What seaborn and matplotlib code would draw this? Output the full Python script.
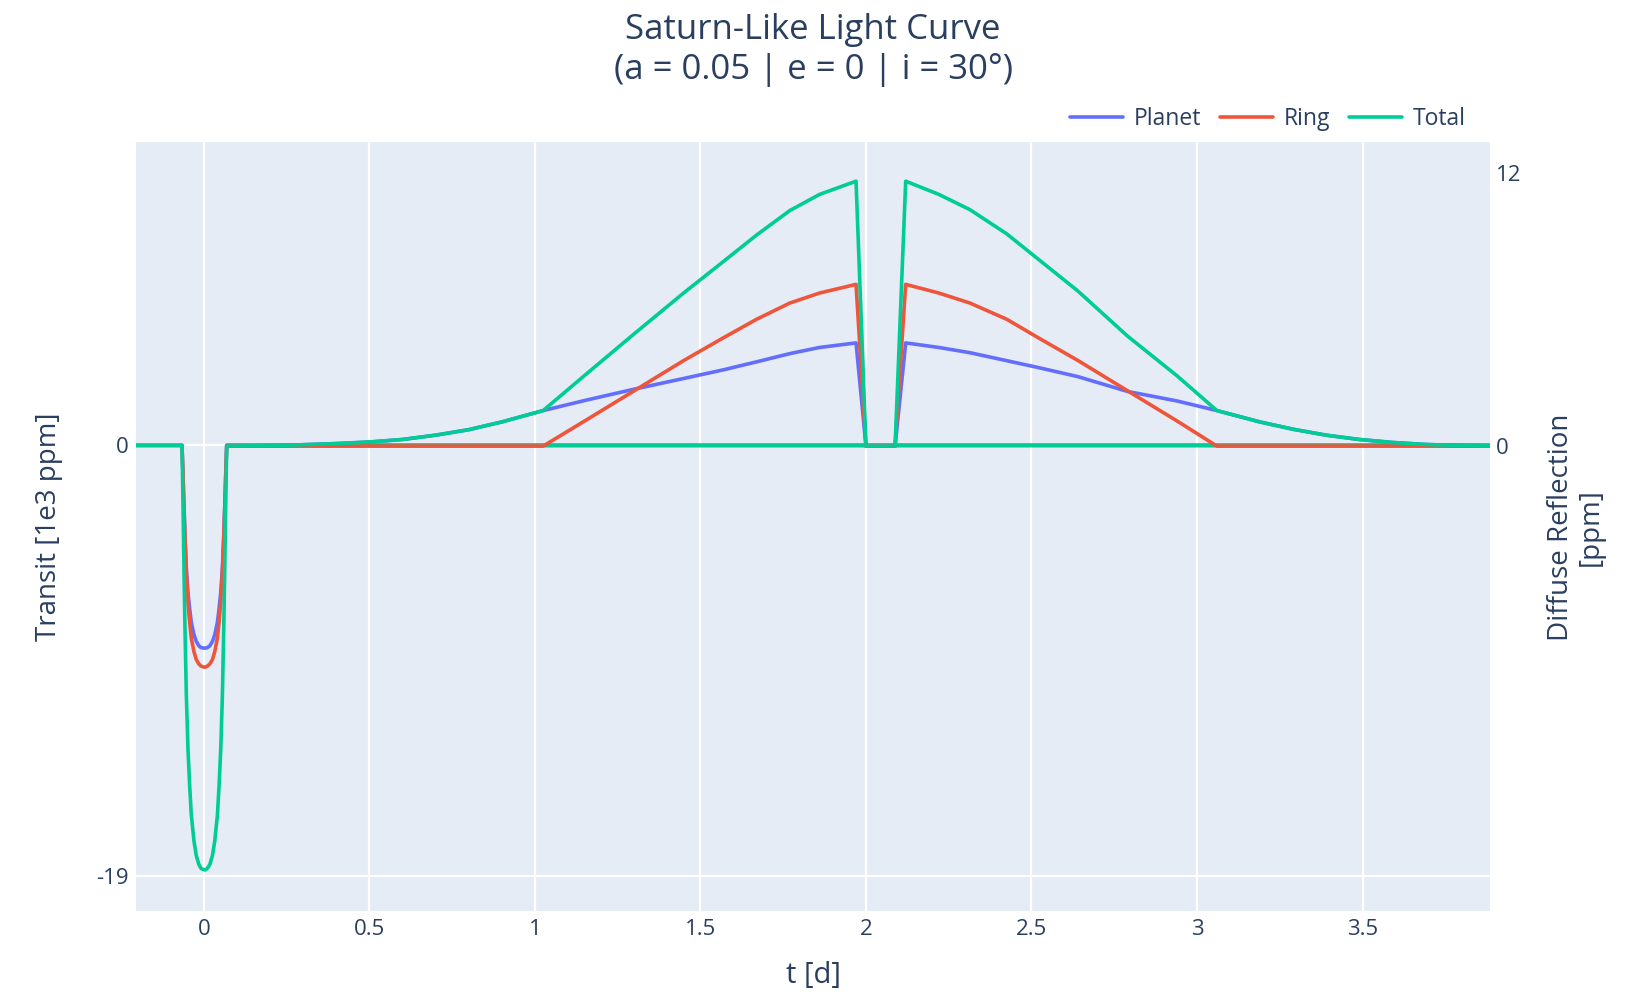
import matplotlib
matplotlib.use("Agg")
import matplotlib.pyplot as plt
import seaborn as sns

# ---- Transit signal (left axis, 1e3 ppm) ----
transit_t = [-0.21, -0.066, -0.063, -0.060, -0.057, -0.053, -0.048, -0.043, -0.038, -0.030,
             -0.023, -0.015, -0.008, 0.003, 0.010, 0.018, 0.026, 0.033, 0.041, 0.046,
             0.051, 0.056, 0.060, 0.063, 0.066, 0.069, 3.885]
transit_planet = [0.0, 0.0, -1.3, -2.7, -4.0, -5.4, -6.5, -7.2, -7.8, -8.35,
                  -8.65, -8.85, -8.93, -8.95, -8.93, -8.85, -8.65, -8.35, -7.8, -7.2,
                  -6.5, -5.4, -4.0, -2.7, -1.3, 0.0, 0.0]
transit_ring = [0.0, 0.0, -1.3, -2.8, -4.1, -5.6, -6.9, -7.8, -8.5, -9.1,
                -9.45, -9.65, -9.75, -9.79, -9.75, -9.65, -9.45, -9.1, -8.5, -7.8,
                -6.9, -5.6, -4.1, -2.8, -1.3, 0.0, 0.0]
transit_total = [0.0, 0.0, -2.6, -5.5, -8.1, -11.0, -13.4, -15.0, -16.3, -17.45,
                 -18.1, -18.5, -18.68, -18.74, -18.68, -18.5, -18.1, -17.45, -16.3, -15.0,
                 -13.4, -11.0, -8.1, -5.5, -2.6, 0.0, 0.0]

# ---- Diffuse reflection (right axis, ppm) ----
refl_t = [0.069, 0.2, 0.3, 0.4, 0.5, 0.6, 0.7, 0.8, 0.9, 1.025,
          1.15, 1.3, 1.45, 1.57, 1.67, 1.77, 1.86, 1.97, 2.0, 2.088,
          2.12, 2.22, 2.314, 2.425, 2.52, 2.64, 2.79, 2.94, 3.06, 3.19,
          3.29, 3.39, 3.49, 3.59, 3.69, 3.79, 3.885]
refl_planet = [0.0, 0.02, 0.06, 0.11, 0.18, 0.29, 0.48, 0.72, 1.06, 1.56,
               2.0, 2.5, 2.97, 3.35, 3.7, 4.06, 4.33, 4.53, 0.0, 0.0,
               4.53, 4.33, 4.1, 3.75, 3.45, 3.05, 2.4, 1.98, 1.56, 1.06,
               0.74, 0.48, 0.29, 0.16, 0.07, 0.03, 0.01]
refl_ring = [0.0, 0.0, 0.0, 0.0, 0.0, 0.0, 0.0, 0.0, 0.0, 0.0,
             1.1, 2.43, 3.76, 4.76, 5.57, 6.28, 6.72, 7.1, 0.0, 0.0,
             7.1, 6.72, 6.28, 5.57, 4.76, 3.76, 2.43, 1.1, 0.0, 0.0,
             0.0, 0.0, 0.0, 0.0, 0.0, 0.0, 0.0]
refl_total = [0.0, 0.02, 0.06, 0.11, 0.18, 0.29, 0.48, 0.72, 1.06, 1.56,
              3.1, 4.93, 6.73, 8.11, 9.27, 10.34, 11.05, 11.63, 0.0, 0.0,
              11.63, 11.05, 10.38, 9.32, 8.21, 6.81, 4.83, 3.08, 1.56, 1.06,
              0.74, 0.48, 0.29, 0.16, 0.07, 0.03, 0.01]

x_ticks = [0, 0.5, 1, 1.5, 2, 2.5, 3, 3.5]
x_tick_labels = ["0", "0.5", "1", "1.5", "2", "2.5", "3", "3.5"]
left_ticks = [0, -19]
right_ticks = [0, 12]

PLANET = "#636efa"
RING = "#EF553B"
TOTAL = "#00cc96"
TEXT = "#2a3f5f"
BG = "#E5ECF6"

sns.set_style("white", {"axes.facecolor": BG})
plt.rcParams["font.family"] = ["Open Sans", "DejaVu Sans"]

W, H = 1641, 994
fig = plt.figure(figsize=(W / 100, H / 100), dpi=100)
L, R, T, B = 136, 1490, 142, 911
ax = fig.add_axes([L / W, 1 - B / H, (R - L) / W, (B - T) / H])
ax.set_facecolor(BG)
ax2 = ax.twinx()
ax2.patch.set_visible(False)

lw = 2.6
line_kw = dict(linewidth=lw, solid_joinstyle="round", solid_capstyle="round")

sns.lineplot(x=transit_t, y=transit_planet, ax=ax, color=PLANET, label="Planet", **line_kw)
sns.lineplot(x=transit_t, y=transit_ring, ax=ax, color=RING, label="Ring", **line_kw)
sns.lineplot(x=transit_t, y=transit_total, ax=ax, color=TOTAL, label="Total", **line_kw)

sns.lineplot(x=refl_t, y=refl_planet, ax=ax2, color=PLANET, legend=False, **line_kw)
sns.lineplot(x=refl_t, y=refl_ring, ax=ax2, color=RING, legend=False, **line_kw)
sns.lineplot(x=refl_t, y=refl_total, ax=ax2, color=TOTAL, legend=False, **line_kw)

handles, labels = ax.get_legend_handles_labels()
ax.get_legend().remove()

ax.set_xlim(-0.205, 3.885)
ax.set_ylim(-20.55, 13.39)
ax2.set_ylim(-20.41, 13.35)

ax.set_xticks(x_ticks)
ax.set_xticklabels(x_tick_labels)
ax.set_yticks(left_ticks)
ax.set_yticklabels([str(v) for v in left_ticks])
ax2.set_yticks(right_ticks)
ax2.set_yticklabels([str(v) for v in right_ticks])

ax.set_axisbelow(True)
ax.grid(True, color="white", linewidth=1.6)
ax2.grid(False)
for a in (ax, ax2):
    for s in a.spines.values():
        s.set_visible(False)
    a.set_xlabel("")
    a.set_ylabel("")

ax.tick_params(axis="x", length=0, pad=6, labelsize=16, labelcolor=TEXT)
ax.tick_params(axis="y", length=0, pad=5, labelsize=16, labelcolor=TEXT)
ax2.tick_params(axis="y", length=0, pad=4, labelsize=16, labelcolor=TEXT)

# Titles and axis labels
fig.text(813 / W, 1 - 50 / H, "Saturn-Like Light Curve\n(a = 0.05 | e = 0 | i = 30°)",
         ha="center", va="center", fontsize=25, color=TEXT, linespacing=1.22)
fig.text(813 / W, 1 - 975 / H, "t [d]", ha="center", va="center", fontsize=21, color=TEXT)
fig.text(49 / W, 1 - 527 / H, "Transit [1e3 ppm]", ha="center", va="center",
         rotation=90, fontsize=20, color=TEXT)
fig.text(1576 / W, 1 - 527 / H, "Diffuse Reflection\n[ppm]", ha="center", va="center",
         rotation=90, fontsize=20, color=TEXT, multialignment="center", linespacing=1.05)

fig.legend(handles, labels, loc="center right", bbox_to_anchor=(1486 / W, 1 - 119 / H),
           ncol=3, frameon=False, fontsize=16.5, labelcolor=TEXT,
           handlelength=2.3, handletextpad=0.45, columnspacing=0.85)

fig.savefig("out.png", dpi=100, facecolor="white")
